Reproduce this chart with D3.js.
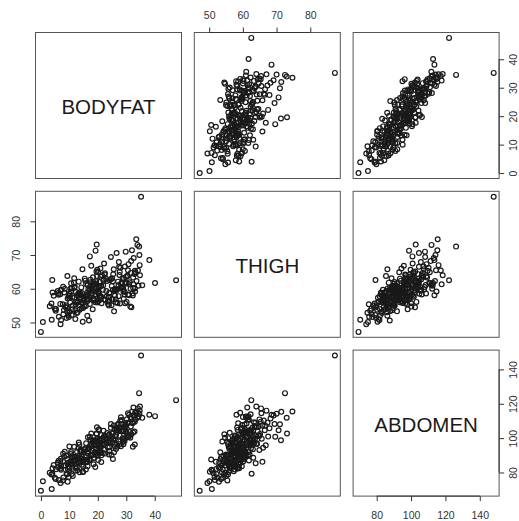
<!DOCTYPE html>
<html>
<head>
<meta charset="utf-8">
<script src="https://cdn.jsdelivr.net/npm/d3@7"></script>
<style>
  body { margin: 0; background: #fff; }
</style>
</head>
<body>
<svg id="chart" width="519" height="521"></svg>
<script>
// Scatterplot matrix of body fat measurements (one value per man, same order in every array)
const varNames = ["BODYFAT", "THIGH", "ABDOMEN"];

const bodyfat = [
  0.0,0.7,3.8,4.0,4.1,6.1,7.1,7.8,9.4,5.2,
  11.2,6.3,3.1,12.8,7.9,9.9,4.9,6.9,13.6,3.7,
  4.5,10.8,6.8,7.7,9.8,7.1,14.6,10.4,12.3,18.7,
  11.7,14.9,5.3,9.4,14.8,10.1,6.2,16.4,19.5,8.6,
  17.1,12.6,8.2,13.3,21.0,13.9,5.9,9.0,14.2,10.3,
  15.8,11.1,7.0,12.2,18.4,9.2,13.8,8.1,16.1,9.2,
  9.8,14.7,10.9,6.8,11.8,12.1,17.9,12.9,18.5,9.5,
  10.0,15.3,11.6,12.7,8.9,13.7,12.2,9.3,16.4,12.9,
  10.0,13.3,8.4,16.0,16.5,19.2,14.2,10.5,14.8,20.4,
  11.0,15.6,21.3,16.2,12.1,16.7,22.6,17.3,13.4,17.8,
  23.9,18.3,14.0,18.8,24.1,19.4,15.2,26.0,14.4,10.6,
  15.2,20.1,15.8,11.7,16.6,22.4,17.2,13.2,17.9,24.0,
  18.5,14.3,19.3,25.1,14.0,19.9,15.4,16.3,21.8,17.4,
  13.5,18.7,19.5,16.9,17.7,19.8,20.7,11.9,17.2,19.2,
  19.6,19.1,21.2,20.8,21.2,22.1,20.9,20.9,22.9,25.3,
  20.2,15.9,26.4,21.0,17.0,27.3,21.9,17.6,22.5,28.1,
  18.6,23.3,28.9,19.5,24.2,29.8,20.1,25.0,20.4,30.6,
  24.8,20.6,16.5,21.5,26.9,17.7,22.4,27.5,23.0,18.8,
  23.8,19.7,29.4,24.9,21.0,25.6,31.2,20.4,25.7,22.2,
  27.8,24.1,20.3,25.4,26.6,23.5,24.6,18.2,20.1,29.6,
  28.7,29.0,22.0,26.4,31.6,23.1,27.3,32.4,27.9,24.0,
  24.6,28.9,33.0,26.0,29.9,30.2,25.9,30.8,27.1,31.5,
  27.6,32.2,32.6,28.4,26.3,30.9,27.4,23.6,28.4,32.9,
  29.4,25.3,30.1,30.6,26.8,31.7,32.4,28.3,26.6,31.8,
  28.1,29.1,30.4,31.0,26.0,27.7,29.8,31.4,32.0,32.5,
  32.3,33.0,33.5,33.9,34.5,35.2,38.1,40.1,47.5,33.2,
  33.6,29.5,34.3,34.7,30.4,35.6,33.1,34.1,29.2,34.8,34.6
];

const thigh = [
  47.2,50.1,50.8,62.6,58.9,58.7,59.7,60.6,52.9,53.5,
  55.0,51.7,54.8,56.2,52.4,57.3,54.1,49.5,53.8,55.6,
  57.9,52.2,58.4,55.4,51.6,50.7,65.8,60.1,59.0,60.0,
  63.1,56.6,54.0,57.1,55.8,53.2,58.2,56.4,61.5,54.6,
  57.6,52.8,58.9,55.2,60.8,57.0,59.3,51.3,60.4,55.9,
  57.7,53.9,59.6,56.1,62.0,53.4,58.5,53.7,56.9,54.4,
  58.0,50.2,60.2,55.5,57.4,51.0,58.6,55.9,56.8,52.1,
  57.8,54.7,61.8,58.1,55.1,57.2,55.3,63.8,58.3,53.0,
  58.5,62.1,60.0,57.6,61.1,58.4,56.0,59.1,54.3,60.7,
  57.5,62.4,55.7,58.8,53.6,60.0,56.7,61.9,57.9,59.4,
  55.0,63.4,58.2,60.5,56.3,62.2,57.1,59.8,58.7,61.6,
  56.6,59.0,54.9,60.3,57.0,64.2,55.5,58.6,60.9,57.4,
  61.2,54.2,59.2,56.9,57.3,55.9,63.0,52.0,59.7,62.7,
  58.9,56.5,60.1,50.6,66.8,65.6,58.0,60.6,69.6,71.3,
  73.1,56.0,57.6,57.4,60.9,62.9,66.0,56.7,63.0,59.6,
  58.9,61.4,56.0,63.6,59.5,57.8,61.0,58.1,64.6,60.3,
  57.1,62.3,59.9,65.1,58.7,61.7,56.4,63.1,60.6,58.3,
  55.1,62.0,58.0,64.0,55.8,60.0,56.8,66.5,59.3,61.3,
  57.6,63.8,59.1,60.8,57.3,65.8,61.9,60.4,53.3,67.5,
  55.6,62.6,58.5,64.3,59.7,56.2,69.4,53.9,64.9,55.7,
  63.2,59.1,62.4,59.5,64.7,57.7,61.1,60.2,66.2,58.8,
  62.8,60.7,65.3,57.9,63.5,61.6,59.4,67.3,62.1,60.0,
  64.1,58.6,69.1,61.8,56.9,61.4,67.9,55.4,60.5,64.4,
  58.3,62.2,56.1,65.5,59.8,68.2,63.3,60.3,70.6,54.5,
  61.5,57.0,63.9,58.1,59.9,65.0,71.0,54.7,71.4,61.3,
  58.0,60.1,74.7,73.0,72.5,87.3,68.5,61.7,62.5,64.9,
  62.3,66.6,60.9,67.0,63.7,61.0,59.2,65.4,63.0,64.0,70.0
];

const abdomen = [
  69.4,74.9,70.4,79.3,82.5,83.0,83.6,90.9,74.6,76.2,
  78.0,75.6,79.8,81.3,77.1,80.7,76.9,73.9,80.2,78.8,
  84.4,79.1,82.3,75.4,77.4,81.6,86.2,86.4,85.2,88.5,
  88.6,83.4,81.9,84.9,80.3,82.8,86.9,83.7,90.1,84.1,
  87.3,83.0,89.2,85.6,91.4,86.1,85.7,79.6,87.8,84.6,
  81.8,85.2,88.0,82.6,90.4,87.9,92.6,84.0,86.3,79.0,
  83.3,80.5,89.5,86.7,85.0,81.0,90.2,88.3,84.8,82.1,
  85.9,87.4,87.0,92.0,89.7,88.8,86.8,85.4,91.2,86.0,
  95.1,97.4,92.0,89.6,100.5,90.7,88.1,90.8,86.6,92.3,
  88.7,94.1,90.0,87.5,89.1,93.7,91.0,95.6,89.9,92.8,
  90.5,97.1,93.3,91.7,94.7,96.0,92.1,95.2,84.5,91.9,
  93.0,87.2,85.8,95.0,90.9,96.6,87.0,94.3,90.3,92.5,
  98.4,89.4,91.5,97.6,92.0,89.8,93.5,86.2,91.3,99.2,
  96.2,88.4,93.9,87.6,95.8,99.7,95.4,89.0,100.8,98.8,
  102.7,83.2,86.1,91.6,101.8,96.4,94.4,92.8,97.5,87.9,
  95.7,97.0,93.6,99.5,94.0,98.1,100.2,96.9,101.3,95.3,
  98.8,103.0,97.8,102.4,99.0,104.1,96.1,101.0,105.2,100.6,
  90.2,98.6,92.4,96.8,95.0,102.7,93.2,104.6,99.9,95.9,
  101.6,106.3,98.3,102.9,97.3,107.4,103.5,99.1,91.8,100.9,
  96.6,97.4,104.8,99.4,105.9,94.6,108.2,98.0,93.1,100.0,
  100.0,96.4,104.3,101.9,106.8,99.6,108.5,103.3,110.2,102.1,
  106.0,104.0,109.6,101.2,107.1,111.0,105.5,109.0,104.7,112.3,
  106.5,108.7,113.2,110.6,98.7,100.8,105.7,97.9,107.9,103.8,
  106.2,102.6,103.1,114.5,107.6,111.4,109.3,104.1,104.6,102.3,
  112.1,99.3,101.6,113.6,96.7,101.4,108.1,100.2,115.3,117.8,
  95.0,96.3,115.5,111.9,126.2,148.1,113.6,112.8,122.1,110.9,
  113.9,107.3,112.6,116.0,108.9,111.8,114.8,117.3,104.5,118.4,114.2
];

const bodyfatTicks = [0, 10, 20, 30, 40];
const thighTicks = [50, 60, 70, 80];
const abdomenTicks = [80, 100, 120, 140];

const columns = [bodyfat, thigh, abdomen];
const tickSets = [bodyfatTicks, thighTicks, abdomenTicks];

// Layout
const panelSize = 146;
const panelStep = 158.8;
const originX = 35.5;
const originY = 32.5;
const tickLen = 5;
const font = "'Liberation Sans', Arial, Helvetica, sans-serif";

const svg = d3.select("#chart");

// Axis ranges padded by 4% on each side
function padded(values) {
  const [lo, hi] = d3.extent(values);
  const pad = (hi - lo) * 0.04;
  return [lo - pad, hi + pad];
}
const xScales = columns.map(v => d3.scaleLinear().domain(padded(v)).range([0, panelSize]));
const yScales = columns.map(v => d3.scaleLinear().domain(padded(v)).range([panelSize, 0]));

const n = bodyfat.length;
const idx = d3.range(n);

for (let i = 0; i < 3; i++) {
  for (let j = 0; j < 3; j++) {
    const g = svg.append("g")
      .attr("transform", `translate(${originX + j * panelStep},${originY + i * panelStep})`);

    if (i === j) {
      g.append("text")
        .attr("x", panelSize / 2)
        .attr("y", panelSize / 2 + 8.7)
        .attr("text-anchor", "middle")
        .attr("font-family", font)
        .attr("font-size", 20.5)
        .attr("fill", "#1a1a1a")
        .text(varNames[i]);
    } else {
      const xs = xScales[j], ys = yScales[i];
      g.selectAll("circle")
        .data(idx)
        .join("circle")
        .attr("cx", k => xs(columns[j][k]))
        .attr("cy", k => ys(columns[i][k]))
        .attr("r", 2.4)
        .attr("fill", "none")
        .attr("stroke", "#1a1a1a")
        .attr("stroke-width", 1.2);
    }

    g.append("rect")
      .attr("width", panelSize)
      .attr("height", panelSize)
      .attr("fill", "none")
      .attr("stroke", "#555")
      .attr("stroke-width", 1);
  }
}

// Axis helper: ticks through d3 axes, axis line spanning first to last tick
function styleAxis(sel, scale, ticks, horizontal) {
  sel.attr("font-family", font).attr("font-size", 10.5).attr("color", "#333");
  sel.select(".domain").remove();
  sel.selectAll(".tick line").attr("stroke-width", 1);
  const a = scale(ticks[0]), b = scale(ticks[ticks.length - 1]);
  sel.append("line")
    .attr("x1", horizontal ? a : 0).attr("x2", horizontal ? b : 0)
    .attr("y1", horizontal ? 0 : a).attr("y2", horizontal ? 0 : b)
    .attr("stroke", "currentColor");
}

// Column axes: top for the middle column, bottom for the outer ones
[0, 1, 2].forEach(j => {
  const x0 = originX + j * panelStep;
  const scale = xScales[j];
  const ticks = tickSets[j];
  if (j === 1) {
    const ax = svg.append("g")
      .attr("transform", `translate(${x0},${originY})`)
      .call(d3.axisTop(scale).tickValues(ticks).tickSize(tickLen).tickSizeOuter(0).tickPadding(8.5).tickFormat(d3.format("d")));
    styleAxis(ax, scale, ticks, true);
  } else {
    const ax = svg.append("g")
      .attr("transform", `translate(${x0},${originY + 2 * panelStep + panelSize})`)
      .call(d3.axisBottom(scale).tickValues(ticks).tickSize(tickLen).tickSizeOuter(0).tickPadding(10).tickFormat(d3.format("d")));
    styleAxis(ax, scale, ticks, true);
  }
});

// Row axes: left for the middle row, right for the outer ones; labels run upward
[0, 1, 2].forEach(i => {
  const y0 = originY + i * panelStep;
  const scale = yScales[i];
  const ticks = tickSets[i];
  if (i === 1) {
    const ax = svg.append("g")
      .attr("transform", `translate(${originX},${y0})`)
      .call(d3.axisLeft(scale).tickValues(ticks).tickSize(tickLen).tickSizeOuter(0).tickFormat(d3.format("d")));
    styleAxis(ax, scale, ticks, false);
    ax.selectAll(".tick text")
      .attr("x", 0).attr("y", -15.2).attr("dy", null)
      .attr("text-anchor", "middle")
      .attr("transform", "rotate(-90)");
  } else {
    const ax = svg.append("g")
      .attr("transform", `translate(${originX + 2 * panelStep + panelSize},${y0})`)
      .call(d3.axisRight(scale).tickValues(ticks).tickSize(tickLen).tickSizeOuter(0).tickFormat(d3.format("d")));
    styleAxis(ax, scale, ticks, false);
    ax.selectAll(".tick text")
      .attr("x", 0).attr("y", 17.8).attr("dy", null)
      .attr("text-anchor", "middle")
      .attr("transform", "rotate(-90)");
  }
});
</script>
</body>
</html>
